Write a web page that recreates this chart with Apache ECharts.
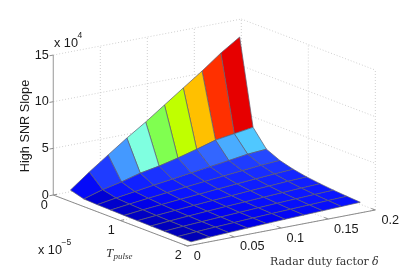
<!DOCTYPE html>
<html><head><meta charset="utf-8">
<style>html,body{margin:0;padding:0;background:#fff}#c{width:415px;height:277px}</style>
<script src="https://cdn.jsdelivr.net/npm/echarts@6/dist/echarts.min.js"></script>
</head><body><div id="c"></div>
<script>
// Data (T in units of 1e-5, slope in units of 1e4)
const dutyValues = [0.004,0.024,0.044,0.064,0.084,0.104,0.124,0.144,0.164,0.184];
const pulseValues = [0.2,0.4,0.6,0.8,1.0,1.2,1.4,1.6,1.8,2.0];
const rowT02 = [1.00,2.55,3.99,5.42,6.75,8.19,9.63,11.06,12.6,13.93];
const rowT04 = [0.59,1.20,1.64,2.20,2.57,3.05,3.60,4.20,4.50,4.80];
const rowT06 = [0.53,0.85,1.15,1.45,1.72,2.00,2.28,2.55,2.85,3.00];
const rowT08 = [0.50,0.75,0.98,1.20,1.42,1.62,1.82,2.02,2.20,2.34];
const rowT10 = [0.47,0.68,0.86,1.04,1.20,1.37,1.53,1.68,1.82,1.94];
const rowT12 = [0.45,0.62,0.78,0.93,1.07,1.20,1.34,1.46,1.58,1.67];
const rowT14 = [0.43,0.58,0.72,0.85,0.97,1.08,1.20,1.30,1.40,1.49];
const rowT16 = [0.41,0.55,0.67,0.78,0.89,0.99,1.09,1.18,1.27,1.34];
const rowT18 = [0.39,0.52,0.63,0.73,0.83,0.92,1.00,1.08,1.16,1.23];
const rowT20 = [0.37,0.49,0.59,0.69,0.78,0.86,0.93,1.00,1.07,1.14];
const slope = [rowT02,rowT04,rowT06,rowT08,rowT10,rowT12,rowT14,rowT16,rowT18,rowT20];
const zTicks = [0,5,10,15];
const dutyTicks = [0,0.05,0.1,0.15,0.2];
const pulseTicks = [0,1,2];
const colorValues = [0.3,0.5,0.8,1.2,2.55,3.6,3.99,4.5,5.42,6.75,8.19,9.63,11.06,12.6];
const colorStops = ['#0000a8','#0000c8','#0000f0','#0a14ff','#1f3cff','#3366ff','#4499ff','#50c8ff','#7fffe0','#80ff50','#c0ff00','#ffc000','#ff3000','#e60000'];

// View of the 3D box
const O=[53.3,195], DV=[940,-180], TV=[67,25.5], ZV=9.33;
const proj=(d,t,z)=>[O[0]+DV[0]*d+TV[0]*t, O[1]+DV[1]*d+TV[1]*t-ZV*z];
const hex=c=>[1,3,5].map(i=>parseInt(c.substr(i,2),16));
function colorOf(v){
  if(v<=colorValues[0])return colorStops[0];
  for(let i=1;i<colorValues.length;i++){
    if(v<=colorValues[i]){
      const f=(v-colorValues[i-1])/(colorValues[i]-colorValues[i-1]);
      const a=hex(colorStops[i-1]),b=hex(colorStops[i]);
      return 'rgb('+a.map((x,j)=>Math.round(x+(b[j]-x)*f)).join(',')+')';
    }
  }
  return colorStops[colorStops.length-1];
}
// Cells, back to front
const cells=[];
for(let r=0;r<pulseValues.length-1;r++)for(let k=dutyValues.length-2;k>=0;k--)cells.push([r,k]);

// Wall grid segments
const dMax=0.2,tMax=2,zMax=15;
const dotted=[];
zTicks.forEach(z=>{ if(z>0){dotted.push([[0,0,z],[dMax,0,z]]);dotted.push([[dMax,0,z],[dMax,tMax,z]]);} });
dutyTicks.forEach(d=>{ if(d>0)dotted.push([[d,0,0],[d,0,zMax]]); dotted.push([[d,0,0],[d,tMax,0]]); });
pulseTicks.forEach(t=>{ if(t>0)dotted.push([[dMax,t,0],[dMax,t,zMax]]); dotted.push([[0,t,0],[dMax,t,0]]); });
const solid=[
 {a:[0,0,0],b:[0,0,zMax],c:'#a8a8a8',w:1.2},
 {a:[0,0,0],b:[0,tMax,0],c:'#8c8c8c',w:1},
 {a:[0,tMax,0],b:[dMax,tMax,0],c:'#8c8c8c',w:1}
];
zTicks.forEach(z=>solid.push({a:[0,0,z],b:[-0.004,0,z],c:'#8c8c8c',w:1}));
dutyTicks.forEach(d=>solid.push({a:[d,tMax,0],b:[d,tMax-0.06,0],c:'#8c8c8c',w:1}));
pulseTicks.forEach(t=>solid.push({a:[0,t,0],b:[0.004,t,0],c:'#8c8c8c',w:1}));

const SANS='"Liberation Sans",Arial,sans-serif', SERIF='"DejaVu Serif","Liberation Serif",serif';
const tickLabels=[];
zTicks.forEach(z=>tickLabels.push({p:[0,0,z],dx:-4.5,dy:0,t:String(z),al:'right'}));
dutyTicks.forEach((d,i)=>tickLabels.push({p:[d,tMax,0],dx:[10,18,14,18,15][i],dy:[10,9,10,10,10][i],t:String(d),al:'center'}));
pulseTicks.forEach((t,i)=>tickLabels.push({p:[0,t,0],dx:-9,dy:[10,10,9][i],t:String(t),al:'center'}));

const option={
 animation:false,
 grid:{left:0,right:0,top:0,bottom:0},
 xAxis:{type:'value',min:0,max:415,show:false},
 yAxis:{type:'value',min:0,max:277,inverse:true,show:false},
 series:[
  {type:'custom',coordinateSystem:'cartesian2d',clip:false,silent:true,data:dotted.map((s,i)=>[i]),
   renderItem:(p,api)=>{const s=dotted[p.dataIndex];
     const a=api.coord(proj(...s[0])),b=api.coord(proj(...s[1]));
     return {type:'line',shape:{x1:a[0],y1:a[1],x2:b[0],y2:b[1]},style:{stroke:'#cfcfcf',lineWidth:1,lineDash:[1,2]}};}},
  {type:'custom',coordinateSystem:'cartesian2d',clip:false,silent:true,data:solid.map((s,i)=>[i]),
   renderItem:(p,api)=>{const s=solid[p.dataIndex];
     const a=api.coord(proj(...s.a)),b=api.coord(proj(...s.b));
     return {type:'line',shape:{x1:a[0],y1:a[1],x2:b[0],y2:b[1]},style:{stroke:s.c,lineWidth:s.w}};}},
  {type:'custom',coordinateSystem:'cartesian2d',clip:false,silent:true,data:cells,
   renderItem:(p,api)=>{const [r,k]=cells[p.dataIndex];
     const pt=(a,b)=>api.coord(proj(dutyValues[b],pulseValues[a],slope[a][b]));
     return {type:'polygon',shape:{points:[pt(r,k),pt(r,k+1),pt(r+1,k+1),pt(r+1,k)]},
       style:{fill:colorOf(slope[r][k]),stroke:'#5c5c70',lineWidth:0.7}};}},
  {type:'custom',coordinateSystem:'cartesian2d',clip:false,silent:true,data:tickLabels.map((s,i)=>[i]),
   renderItem:(p,api)=>{const s=tickLabels[p.dataIndex];const a=api.coord(proj(...s.p));
     return {type:'text',x:a[0]+s.dx,y:a[1]+s.dy,style:{text:s.t,fill:'#1a1a1a',font:'12.7px '+SANS,textAlign:s.al,textVerticalAlign:'middle'}};}}
 ],
 graphic:[
  {type:'text',x:25,y:126,rotation:Math.PI/2,style:{text:'High SNR Slope',fill:'#1a1a1a',font:'12.7px '+SANS,textAlign:'center',textVerticalAlign:'middle'}},
  {type:'text',x:54,y:43,style:{text:'x 10',fill:'#1a1a1a',font:'12.7px '+SANS,textVerticalAlign:'middle'}},
  {type:'text',x:77.5,y:36,style:{text:'4',fill:'#1a1a1a',font:'8.5px '+SANS,textVerticalAlign:'middle'}},
  {type:'text',x:38,y:250,style:{text:'x 10',fill:'#1a1a1a',font:'12.7px '+SANS,textVerticalAlign:'middle'}},
  {type:'text',x:61.5,y:243,style:{text:'\u22125',fill:'#1a1a1a',font:'8.5px '+SANS,textVerticalAlign:'middle'}},
  {type:'text',x:106,y:254,style:{text:'T',fill:'#333',font:'italic 13px "Liberation Serif",serif',textVerticalAlign:'middle'}},
  {type:'text',x:113.5,y:256.5,style:{text:'pulse',fill:'#333',font:'italic 9px "Liberation Serif",serif',textVerticalAlign:'middle'}},
  {type:'text',x:270,y:262,style:{text:'Radar duty factor ',fill:'#333',font:'11px '+SERIF,textVerticalAlign:'middle'}},
  {type:'text',x:372,y:262,style:{text:'\u03b4',fill:'#333',font:'italic 11px '+SERIF,textVerticalAlign:'middle'}}
 ]
};
echarts.init(document.getElementById('c'),null,{renderer:'canvas'}).setOption(option);
</script></body></html>
